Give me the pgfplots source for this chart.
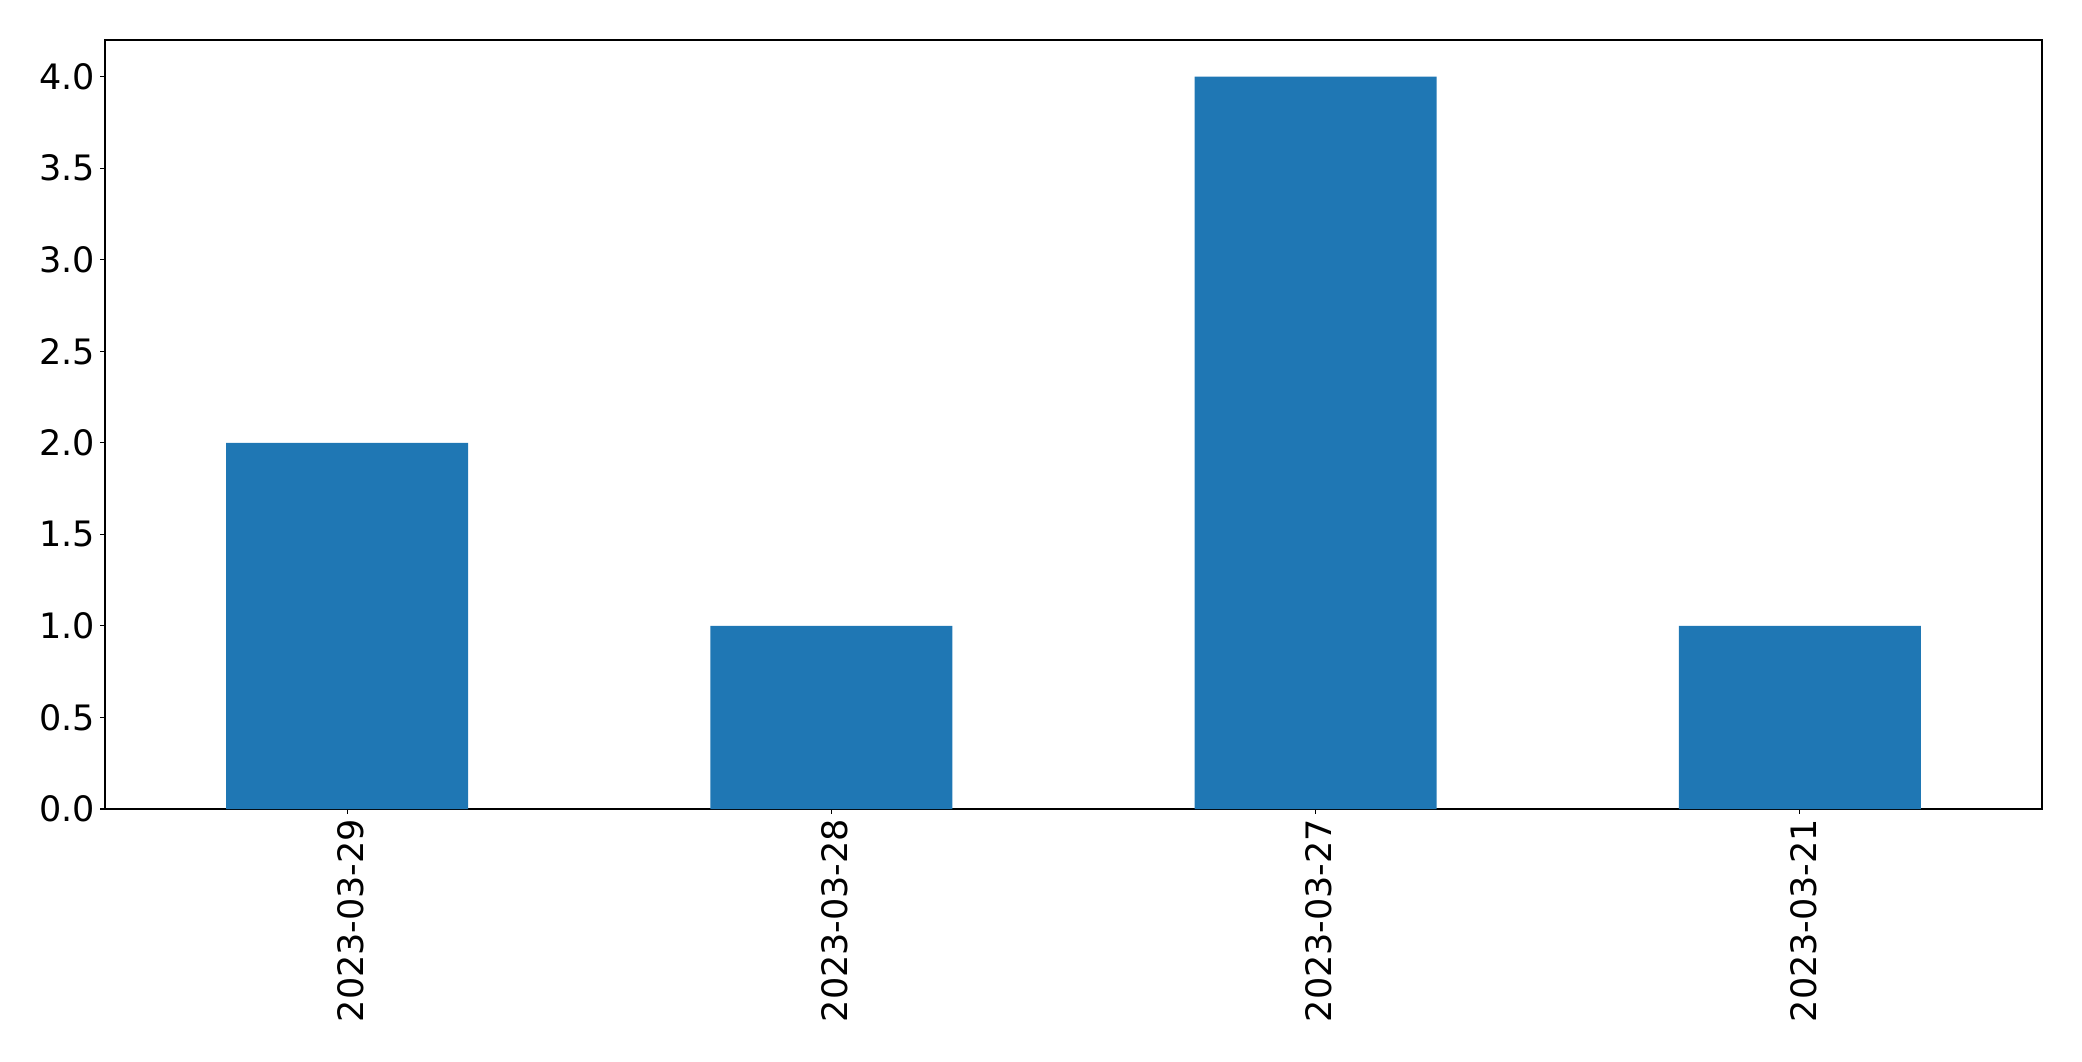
\documentclass[border=0pt]{standalone}
\usepackage{pgfplots}
\pgfplotsset{compat=1.18}
\usepackage{fontspec}
\setmainfont{DejaVu Sans}
\definecolor{mplblue}{HTML}{1F77B4}
\begin{document}
\begin{tikzpicture}
\begin{axis}[
  at={(0,0)}, anchor=south west,
  width=1394.6bp, height=553.7bp, scale only axis,
  xmin=-0.5, xmax=3.5, ymin=0, ymax=4.2,
  xtick=data,
  xticklabels={2023-03-29,2023-03-28,2023-03-27,2023-03-21},
  xticklabel style={rotate=90, anchor=east, yshift=-2.5bp},
  ytick={0,0.5,1,1.5,2,2.5,3,3.5,4},
  yticklabel style={/pgf/number format/.cd, fixed, fixed zerofill, precision=1},
  /pgf/number format/assume math mode=true,
  tick label style={font=\fontsize{25.3}{30}\selectfont},
  tick align=outside, tick pos=left,
  major tick length=3.5bp,
  axis line style={black, line width=0.8bp},
  every tick/.style={black, line width=0.8bp},
  ybar, bar width=0.5, bar shift=0pt,
]
\addplot[fill=mplblue, draw=none] coordinates {(0,2) (1,1) (2,4) (3,1)};
\end{axis}
\path (-75.6bp,-181.44bp) rectangle (1423.4bp,582.5bp);
\end{tikzpicture}
\end{document}
